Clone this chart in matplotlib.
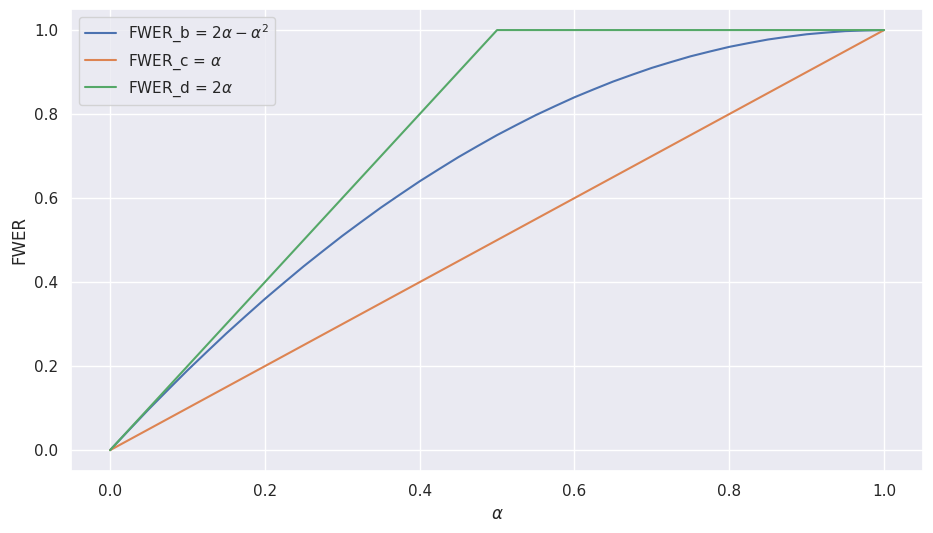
import matplotlib
matplotlib.use("Agg")
import matplotlib.pyplot as plt
import seaborn as sns

sns.set_theme()

# alpha sample points and values
alpha = [0.0, 0.025, 0.05, 0.075, 0.1, 0.125, 0.15, 0.175, 0.2, 0.225, 0.25,
         0.275, 0.3, 0.325, 0.35, 0.375, 0.4, 0.425, 0.45, 0.475, 0.5,
         0.525, 0.55, 0.575, 0.6, 0.625, 0.65, 0.675, 0.7, 0.725, 0.75,
         0.775, 0.8, 0.825, 0.85, 0.875, 0.9, 0.925, 0.95, 0.975, 1.0]
fwer_b = [0.0, 0.049, 0.0975, 0.144, 0.19, 0.234, 0.2775, 0.319, 0.36, 0.399, 0.4375,
          0.474, 0.51, 0.544, 0.5775, 0.609, 0.64, 0.669, 0.6975, 0.724, 0.75,
          0.774, 0.7975, 0.819, 0.84, 0.859, 0.8775, 0.894, 0.91, 0.924, 0.9375,
          0.949, 0.96, 0.969, 0.9775, 0.984, 0.99, 0.994, 0.9975, 0.999, 1.0]
alpha_c = [0.0, 1.0]
fwer_c = [0.0, 1.0]
alpha_d = [0.0, 0.5, 1.0]
fwer_d = [0.0, 1.0, 1.0]

labels = [r"FWER_b = $2\alpha - \alpha^2$", r"FWER_c = $\alpha$", r"FWER_d = $2\alpha$"]

fig, ax = plt.subplots(figsize=(9.33, 5.33), dpi=100)
fig.subplots_adjust(left=0.0765, right=0.989, top=0.983, bottom=0.116)
ax.plot(alpha, fwer_b, label=labels[0])
ax.plot(alpha_c, fwer_c, label=labels[1])
ax.plot(alpha_d, fwer_d, label=labels[2])
ax.set_xlabel(r"$\alpha$")
ax.set_ylabel("FWER")
ax.legend(loc="upper left")
fig.savefig("out.png")
